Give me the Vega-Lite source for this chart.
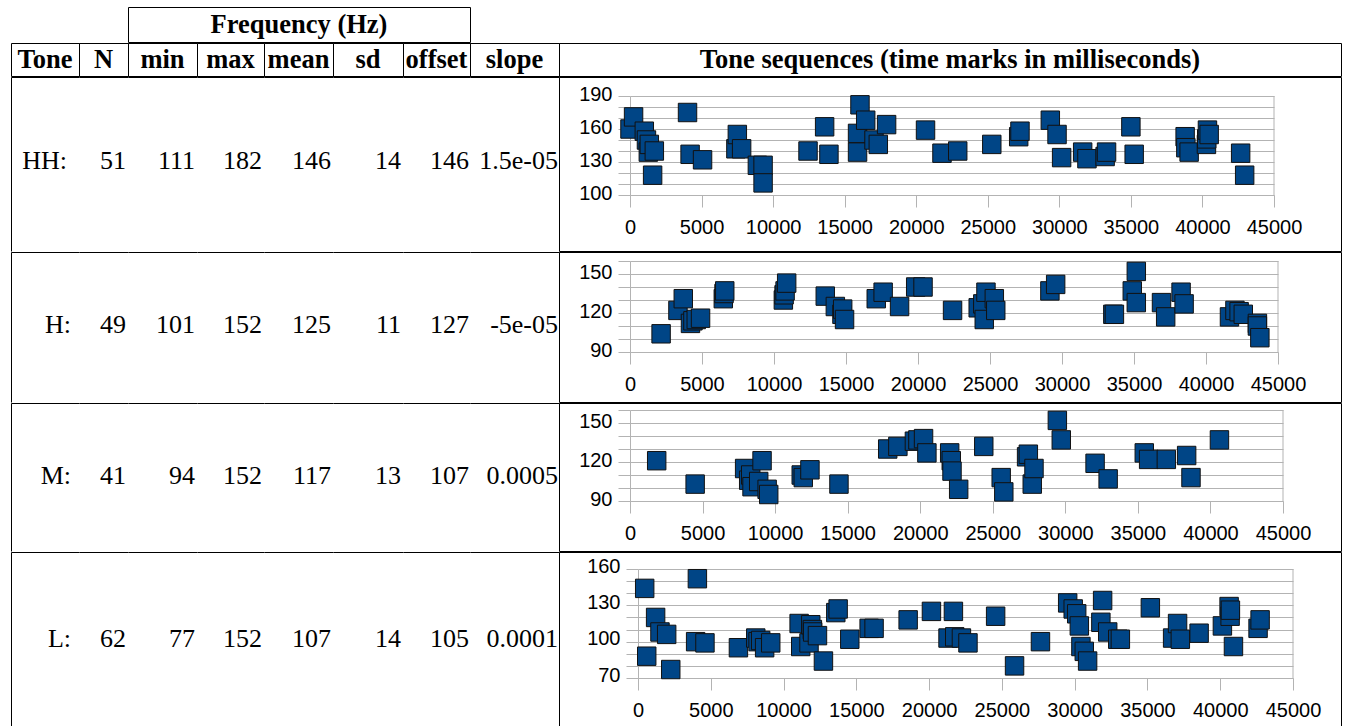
{
"$schema":"https://vega.github.io/schema/vega-lite/v6.json",
"padding":{"left":10,"top":6,"right":0,"bottom":0},
"background":"white",
"datasets":{
"stats":[
{"tone":"HH","label":"HH:","N":51,"min":111,"max":182,"mean":146,"sd":14,"offset":146,"slope":"1.5e-05"},
{"tone":"H","label":"H:","N":49,"min":101,"max":152,"mean":125,"sd":11,"offset":127,"slope":"-5e-05"},
{"tone":"M","label":"M:","N":41,"min":94,"max":152,"mean":117,"sd":13,"offset":107,"slope":"0.0005"},
{"tone":"L","label":"L:","N":62,"min":77,"max":152,"mean":107,"sd":14,"offset":105,"slope":"0.0001"}
],
"pts":[
{"tone":"HH","t":0,"f":160},{"tone":"HH","t":250,"f":171},{"tone":"HH","t":1000,"f":158},{"tone":"HH","t":1150,"f":150},{"tone":"HH","t":1280,"f":139},{"tone":"HH","t":1350,"f":146},{"tone":"HH","t":1580,"f":118},{"tone":"HH","t":1700,"f":140},{"tone":"HH","t":4020,"f":175},{"tone":"HH","t":4200,"f":137},{"tone":"HH","t":5070,"f":132},{"tone":"HH","t":7400,"f":142},{"tone":"HH","t":7500,"f":155},{"tone":"HH","t":7800,"f":142},{"tone":"HH","t":8900,"f":127},{"tone":"HH","t":9300,"f":127},{"tone":"HH","t":9300,"f":111},{"tone":"HH","t":12440,"f":140},{"tone":"HH","t":13600,"f":162},{"tone":"HH","t":13900,"f":137},{"tone":"HH","t":15900,"f":156},{"tone":"HH","t":15900,"f":139},{"tone":"HH","t":16070,"f":182},{"tone":"HH","t":16470,"f":168},{"tone":"HH","t":17050,"f":150},{"tone":"HH","t":17350,"f":146},{"tone":"HH","t":17930,"f":164},{"tone":"HH","t":20650,"f":159},{"tone":"HH","t":21800,"f":138},{"tone":"HH","t":22900,"f":140},{"tone":"HH","t":25280,"f":146},{"tone":"HH","t":27160,"f":153},{"tone":"HH","t":27250,"f":158},{"tone":"HH","t":29370,"f":168},{"tone":"HH","t":29840,"f":155},{"tone":"HH","t":30160,"f":134},{"tone":"HH","t":31630,"f":139},{"tone":"HH","t":31930,"f":133},{"tone":"HH","t":33200,"f":135},{"tone":"HH","t":33300,"f":139},{"tone":"HH","t":35000,"f":162},{"tone":"HH","t":35230,"f":137},{"tone":"HH","t":38790,"f":153},{"tone":"HH","t":38840,"f":143},{"tone":"HH","t":39070,"f":139},{"tone":"HH","t":40280,"f":146},{"tone":"HH","t":40300,"f":151},{"tone":"HH","t":40350,"f":159},{"tone":"HH","t":40470,"f":155},{"tone":"HH","t":42670,"f":138},{"tone":"HH","t":42950,"f":118},
{"tone":"H","t":2160,"f":104},{"tone":"H","t":3330,"f":122},{"tone":"H","t":3700,"f":131},{"tone":"H","t":4200,"f":112},{"tone":"H","t":4370,"f":114},{"tone":"H","t":4600,"f":115},{"tone":"H","t":4900,"f":116},{"tone":"H","t":6480,"f":131},{"tone":"H","t":6530,"f":135},{"tone":"H","t":6580,"f":137},{"tone":"H","t":10650,"f":130},{"tone":"H","t":10700,"f":134},{"tone":"H","t":10770,"f":137},{"tone":"H","t":10880,"f":143},{"tone":"H","t":13560,"f":133},{"tone":"H","t":14260,"f":125},{"tone":"H","t":14720,"f":119},{"tone":"H","t":14770,"f":123},{"tone":"H","t":14900,"f":115},{"tone":"H","t":17100,"f":131},{"tone":"H","t":17580,"f":136},{"tone":"H","t":18720,"f":125},{"tone":"H","t":19840,"f":140},{"tone":"H","t":20350,"f":140},{"tone":"H","t":22400,"f":122},{"tone":"H","t":24180,"f":124},{"tone":"H","t":24500,"f":127},{"tone":"H","t":24600,"f":115},{"tone":"H","t":24720,"f":136},{"tone":"H","t":25300,"f":131},{"tone":"H","t":25400,"f":122},{"tone":"H","t":29160,"f":137},{"tone":"H","t":29560,"f":142},{"tone":"H","t":33530,"f":119},{"tone":"H","t":33640,"f":119},{"tone":"H","t":34880,"f":137},{"tone":"H","t":35160,"f":152},{"tone":"H","t":35160,"f":128},{"tone":"H","t":36910,"f":128},{"tone":"H","t":37200,"f":117},{"tone":"H","t":38270,"f":136},{"tone":"H","t":38480,"f":127},{"tone":"H","t":41630,"f":117},{"tone":"H","t":42010,"f":122},{"tone":"H","t":42300,"f":121},{"tone":"H","t":42590,"f":119},{"tone":"H","t":43570,"f":112},{"tone":"H","t":43570,"f":110},{"tone":"H","t":43740,"f":101},
{"tone":"M","t":1840,"f":121},{"tone":"M","t":4490,"f":103},{"tone":"M","t":7900,"f":115},{"tone":"M","t":8180,"f":106},{"tone":"M","t":8320,"f":110},{"tone":"M","t":8410,"f":101},{"tone":"M","t":8870,"f":105},{"tone":"M","t":9100,"f":121},{"tone":"M","t":9450,"f":99},{"tone":"M","t":9560,"f":95},{"tone":"M","t":11800,"f":110},{"tone":"M","t":11940,"f":108},{"tone":"M","t":12400,"f":114},{"tone":"M","t":14400,"f":103},{"tone":"M","t":17760,"f":130},{"tone":"M","t":18460,"f":132},{"tone":"M","t":19600,"f":136},{"tone":"M","t":19840,"f":137},{"tone":"M","t":20230,"f":138},{"tone":"M","t":20460,"f":127},{"tone":"M","t":22030,"f":127},{"tone":"M","t":22140,"f":121},{"tone":"M","t":22190,"f":113},{"tone":"M","t":22650,"f":99},{"tone":"M","t":24380,"f":132},{"tone":"M","t":25580,"f":108},{"tone":"M","t":25760,"f":97},{"tone":"M","t":27330,"f":124},{"tone":"M","t":27450,"f":126},{"tone":"M","t":27720,"f":103},{"tone":"M","t":27840,"f":115},{"tone":"M","t":29450,"f":152},{"tone":"M","t":29720,"f":137},{"tone":"M","t":32050,"f":119},{"tone":"M","t":32950,"f":107},{"tone":"M","t":35440,"f":127},{"tone":"M","t":35740,"f":122},{"tone":"M","t":36960,"f":122},{"tone":"M","t":38360,"f":125},{"tone":"M","t":38660,"f":108},{"tone":"M","t":40620,"f":137},
{"tone":"L","t":460,"f":144},{"tone":"L","t":600,"f":88},{"tone":"L","t":1210,"f":120},{"tone":"L","t":1510,"f":108},{"tone":"L","t":1970,"f":106},{"tone":"L","t":2250,"f":77},{"tone":"L","t":3960,"f":100},{"tone":"L","t":4080,"f":152},{"tone":"L","t":4600,"f":99},{"tone":"L","t":6900,"f":95},{"tone":"L","t":8090,"f":103},{"tone":"L","t":8250,"f":100},{"tone":"L","t":8430,"f":101},{"tone":"L","t":8700,"f":95},{"tone":"L","t":9120,"f":99},{"tone":"L","t":11070,"f":115},{"tone":"L","t":11180,"f":96},{"tone":"L","t":11750,"f":99},{"tone":"L","t":11870,"f":114},{"tone":"L","t":11980,"f":110},{"tone":"L","t":12000,"f":108},{"tone":"L","t":12330,"f":105},{"tone":"L","t":12740,"f":84},{"tone":"L","t":13590,"f":124},{"tone":"L","t":13750,"f":127},{"tone":"L","t":14550,"f":102},{"tone":"L","t":15880,"f":111},{"tone":"L","t":16220,"f":111},{"tone":"L","t":18560,"f":118},{"tone":"L","t":20160,"f":125},{"tone":"L","t":21300,"f":103},{"tone":"L","t":21670,"f":125},{"tone":"L","t":21760,"f":104},{"tone":"L","t":22220,"f":103},{"tone":"L","t":22670,"f":99},{"tone":"L","t":24570,"f":121},{"tone":"L","t":25870,"f":80},{"tone":"L","t":27650,"f":100},{"tone":"L","t":29520,"f":132},{"tone":"L","t":29900,"f":127},{"tone":"L","t":30140,"f":123},{"tone":"L","t":30320,"f":113},{"tone":"L","t":30430,"f":96},{"tone":"L","t":30660,"f":92},{"tone":"L","t":30890,"f":84},{"tone":"L","t":31800,"f":116},{"tone":"L","t":31920,"f":134},{"tone":"L","t":32270,"f":108},{"tone":"L","t":32960,"f":102},{"tone":"L","t":33140,"f":102},{"tone":"L","t":35200,"f":128},{"tone":"L","t":36730,"f":103},{"tone":"L","t":37070,"f":115},{"tone":"L","t":37260,"f":102},{"tone":"L","t":38550,"f":107},{"tone":"L","t":40150,"f":113},{"tone":"L","t":40610,"f":129},{"tone":"L","t":40680,"f":121},{"tone":"L","t":40700,"f":126},{"tone":"L","t":40910,"f":96},{"tone":"L","t":42600,"f":111},{"tone":"L","t":42740,"f":118}
]
},
"vconcat":[
{"hconcat":[
 {"width":117,"height":35,"data":{"values":[{"h":""}]},"mark":{"type":"text"},"encoding":{"text":{"field":"h","type":"nominal"}}},
 {"width":342,"height":35,"view":{"stroke":"black"},"data":{"values":[{"h":"Frequency (Hz)"}]},"mark":{"type":"text","fontWeight":"bold","fontSize":26.5},"encoding":{"text":{"field":"h","type":"nominal"}}}
],"spacing":0,"bounds":"flush"},
{"hconcat":[
 {"width":68,"height":33,"view":{"stroke":"black"},"data":{"values":[{"h":"Tone"}]},"mark":{"type":"text","fontWeight":"bold","fontSize":26.5},"encoding":{"text":{"field":"h","type":"nominal"}}},
 {"width":49,"height":33,"view":{"stroke":"black"},"data":{"values":[{"h":"N"}]},"mark":{"type":"text","fontWeight":"bold","fontSize":26.5},"encoding":{"text":{"field":"h","type":"nominal"}}},
 {"width":69,"height":33,"view":{"stroke":"black"},"data":{"values":[{"h":"min"}]},"mark":{"type":"text","fontWeight":"bold","fontSize":26.5},"encoding":{"text":{"field":"h","type":"nominal"}}},
 {"width":67,"height":33,"view":{"stroke":"black"},"data":{"values":[{"h":"max"}]},"mark":{"type":"text","fontWeight":"bold","fontSize":26.5},"encoding":{"text":{"field":"h","type":"nominal"}}},
 {"width":69,"height":33,"view":{"stroke":"black"},"data":{"values":[{"h":"mean"}]},"mark":{"type":"text","fontWeight":"bold","fontSize":26.5},"encoding":{"text":{"field":"h","type":"nominal"}}},
 {"width":70,"height":33,"view":{"stroke":"black"},"data":{"values":[{"h":"sd"}]},"mark":{"type":"text","fontWeight":"bold","fontSize":26.5},"encoding":{"text":{"field":"h","type":"nominal"}}},
 {"width":67,"height":33,"view":{"stroke":"black"},"data":{"values":[{"h":"offset"}]},"mark":{"type":"text","fontWeight":"bold","fontSize":26.5},"encoding":{"text":{"field":"h","type":"nominal"}}},
 {"width":89,"height":33,"view":{"stroke":"black"},"data":{"values":[{"h":"slope"}]},"mark":{"type":"text","fontWeight":"bold","fontSize":26.5},"encoding":{"text":{"field":"h","type":"nominal"}}},
 {"width":782,"height":33,"view":{"stroke":"black"},"data":{"values":[{"h":"Tone sequences (time marks in milliseconds)"}]},"mark":{"type":"text","fontWeight":"bold","fontSize":26.5},"encoding":{"text":{"field":"h","type":"nominal"}}}
],"spacing":0,"bounds":"flush"},
{"hconcat":[
 {"width":68,"height":174,"data":{"name":"stats"},"transform":[{"filter":"datum.tone=='HH'"}],"mark":{"type":"text","align":"right","dx":-12,"dy":-3},"encoding":{"x":{"datum":"Tone","type":"nominal","bandPosition":1,"scale":{"type":"band","padding":0},"axis":{"orient":"top","title":null}},"y":{"datum":"row","type":"nominal","scale":{"type":"band","padding":0},"axis":{"orient":"left","title":null}},"text":{"field":"label","type":"nominal"}}},
 {"width":49,"height":174,"data":{"name":"stats"},"transform":[{"filter":"datum.tone=='HH'"}],"mark":{"type":"text","align":"right","dx":-2,"dy":-3},"encoding":{"x":{"datum":"N","type":"nominal","bandPosition":1,"scale":{"type":"band","padding":0},"axis":{"orient":"top","title":null}},"text":{"field":"N","type":"nominal"}}},
 {"width":69,"height":174,"data":{"name":"stats"},"transform":[{"filter":"datum.tone=='HH'"}],"mark":{"type":"text","align":"right","dx":-2,"dy":-3},"encoding":{"x":{"datum":"min","type":"nominal","bandPosition":1,"scale":{"type":"band","padding":0},"axis":{"orient":"top","title":null}},"text":{"field":"min","type":"nominal"}}},
 {"width":67,"height":174,"data":{"name":"stats"},"transform":[{"filter":"datum.tone=='HH'"}],"mark":{"type":"text","align":"right","dx":-2,"dy":-3},"encoding":{"x":{"datum":"max","type":"nominal","bandPosition":1,"scale":{"type":"band","padding":0},"axis":{"orient":"top","title":null}},"text":{"field":"max","type":"nominal"}}},
 {"width":69,"height":174,"data":{"name":"stats"},"transform":[{"filter":"datum.tone=='HH'"}],"mark":{"type":"text","align":"right","dx":-2,"dy":-3},"encoding":{"x":{"datum":"mean","type":"nominal","bandPosition":1,"scale":{"type":"band","padding":0},"axis":{"orient":"top","title":null}},"text":{"field":"mean","type":"nominal"}}},
 {"width":70,"height":174,"data":{"name":"stats"},"transform":[{"filter":"datum.tone=='HH'"}],"mark":{"type":"text","align":"right","dx":-2,"dy":-3},"encoding":{"x":{"datum":"sd","type":"nominal","bandPosition":1,"scale":{"type":"band","padding":0},"axis":{"orient":"top","title":null}},"text":{"field":"sd","type":"nominal"}}},
 {"width":67,"height":174,"data":{"name":"stats"},"transform":[{"filter":"datum.tone=='HH'"}],"mark":{"type":"text","align":"right","dx":-1,"dy":-3},"encoding":{"x":{"datum":"offset","type":"nominal","bandPosition":1,"scale":{"type":"band","padding":0},"axis":{"orient":"top","title":null}},"text":{"field":"offset","type":"nominal"}}},
 {"width":89,"height":174,"data":{"name":"stats"},"transform":[{"filter":"datum.tone=='HH'"}],"mark":{"type":"text","align":"right","dx":-1,"dy":-3},"encoding":{"x":{"datum":"slope","type":"nominal","bandPosition":1,"scale":{"type":"band","padding":0},"axis":{"orient":"top","title":null}},"text":{"field":"slope","type":"nominal"}}},
 {"width":782,"height":174,"view":{"stroke":"black"},"resolve":{"axis":{"y":"independent"}},"layer":[
  {"data":{"name":"pts"},"transform":[{"filter":"datum.tone=='HH'"}],"mark":{"type":"point","shape":"square","filled":true,"fill":"#004586","stroke":"#111111","strokeWidth":1,"size":340,"opacity":1},
   "encoding":{
    "x":{"field":"t","type":"quantitative","scale":{"domain":[0,45000],"range":[71,715],"nice":false,"zero":false},"axis":{"orient":"bottom","offset":-56,"values":[0,5000,10000,15000,20000,25000,30000,35000,40000,45000],"format":"d","grid":false,"labelPadding":10,"labelOverlap":false,"title":null}},
    "y":{"field":"f","type":"quantitative","scale":{"domain":[100,190],"range":[118,19],"nice":false,"zero":false},"axis":{"orient":"left","offset":-71,"values":[100,110,120,130,140,150,160,170,180,190],"grid":true,"labels":false,"title":null}}
   }},
  {"data":{"values":[{}]},"mark":{"type":"rule","color":"#b3b3b3","strokeWidth":1},"encoding":{"x":{"datum":45000,"type":"quantitative"},"y":{"datum":100,"type":"quantitative","axis":{"orient":"left","offset":-71,"values":[100,130,160,190],"format":"d","grid":false,"domain":false,"tickOpacity":0,"labelPadding":6,"labelOffset":-2,"labelOverlap":false,"title":null}},"y2":{"datum":190}}}
 ]}
],"spacing":0,"bounds":"flush"},
{"hconcat":[
 {"width":68,"height":150,"data":{"name":"stats"},"transform":[{"filter":"datum.tone=='H'"}],"mark":{"type":"text","align":"right","dx":-8,"dy":-2},"encoding":{"x":{"datum":"Tone","type":"nominal","bandPosition":1,"scale":{"type":"band","padding":0},"axis":{"orient":"top","title":null}},"y":{"datum":"row","type":"nominal","scale":{"type":"band","padding":0},"axis":{"orient":"left","title":null}},"text":{"field":"label","type":"nominal"}}},
 {"width":49,"height":150,"data":{"name":"stats"},"transform":[{"filter":"datum.tone=='H'"}],"mark":{"type":"text","align":"right","dx":-2,"dy":-2},"encoding":{"x":{"datum":"N","type":"nominal","bandPosition":1,"scale":{"type":"band","padding":0},"axis":{"orient":"top","title":null}},"text":{"field":"N","type":"nominal"}}},
 {"width":69,"height":150,"data":{"name":"stats"},"transform":[{"filter":"datum.tone=='H'"}],"mark":{"type":"text","align":"right","dx":-2,"dy":-2},"encoding":{"x":{"datum":"min","type":"nominal","bandPosition":1,"scale":{"type":"band","padding":0},"axis":{"orient":"top","title":null}},"text":{"field":"min","type":"nominal"}}},
 {"width":67,"height":150,"data":{"name":"stats"},"transform":[{"filter":"datum.tone=='H'"}],"mark":{"type":"text","align":"right","dx":-2,"dy":-2},"encoding":{"x":{"datum":"max","type":"nominal","bandPosition":1,"scale":{"type":"band","padding":0},"axis":{"orient":"top","title":null}},"text":{"field":"max","type":"nominal"}}},
 {"width":69,"height":150,"data":{"name":"stats"},"transform":[{"filter":"datum.tone=='H'"}],"mark":{"type":"text","align":"right","dx":-2,"dy":-2},"encoding":{"x":{"datum":"mean","type":"nominal","bandPosition":1,"scale":{"type":"band","padding":0},"axis":{"orient":"top","title":null}},"text":{"field":"mean","type":"nominal"}}},
 {"width":70,"height":150,"data":{"name":"stats"},"transform":[{"filter":"datum.tone=='H'"}],"mark":{"type":"text","align":"right","dx":-2,"dy":-2},"encoding":{"x":{"datum":"sd","type":"nominal","bandPosition":1,"scale":{"type":"band","padding":0},"axis":{"orient":"top","title":null}},"text":{"field":"sd","type":"nominal"}}},
 {"width":67,"height":150,"data":{"name":"stats"},"transform":[{"filter":"datum.tone=='H'"}],"mark":{"type":"text","align":"right","dx":-1,"dy":-2},"encoding":{"x":{"datum":"offset","type":"nominal","bandPosition":1,"scale":{"type":"band","padding":0},"axis":{"orient":"top","title":null}},"text":{"field":"offset","type":"nominal"}}},
 {"width":89,"height":150,"data":{"name":"stats"},"transform":[{"filter":"datum.tone=='H'"}],"mark":{"type":"text","align":"right","dx":-1,"dy":-2},"encoding":{"x":{"datum":"slope","type":"nominal","bandPosition":1,"scale":{"type":"band","padding":0},"axis":{"orient":"top","title":null}},"text":{"field":"slope","type":"nominal"}}},
 {"width":782,"height":150,"view":{"stroke":"black"},"resolve":{"axis":{"y":"independent"}},"layer":[
  {"data":{"name":"pts"},"transform":[{"filter":"datum.tone=='H'"}],"mark":{"type":"point","shape":"square","filled":true,"fill":"#004586","stroke":"#111111","strokeWidth":1,"size":340,"opacity":1},
   "encoding":{
    "x":{"field":"t","type":"quantitative","scale":{"domain":[0,45000],"range":[71,719],"nice":false,"zero":false},"axis":{"orient":"bottom","offset":-50,"values":[0,5000,10000,15000,20000,25000,30000,35000,40000,45000],"format":"d","grid":false,"labelPadding":10,"labelOverlap":false,"title":null}},
    "y":{"field":"f","type":"quantitative","scale":{"domain":[90,160],"range":[100,9],"nice":false,"zero":false},"axis":{"orient":"left","offset":-71,"values":[90,100,110,120,130,140,150,160],"grid":true,"labels":false,"title":null}}
   }},
  {"data":{"values":[{}]},"mark":{"type":"rule","color":"#b3b3b3","strokeWidth":1},"encoding":{"x":{"datum":45000,"type":"quantitative"},"y":{"datum":90,"type":"quantitative","axis":{"orient":"left","offset":-71,"values":[90,120,150],"format":"d","grid":false,"domain":false,"tickOpacity":0,"labelPadding":6,"labelOffset":-2,"labelOverlap":false,"title":null}},"y2":{"datum":160}}}
 ]}
],"spacing":0,"bounds":"flush"},
{"hconcat":[
 {"width":68,"height":148,"data":{"name":"stats"},"transform":[{"filter":"datum.tone=='M'"}],"mark":{"type":"text","align":"right","dx":-8,"dy":-1},"encoding":{"x":{"datum":"Tone","type":"nominal","bandPosition":1,"scale":{"type":"band","padding":0},"axis":{"orient":"top","title":null}},"y":{"datum":"row","type":"nominal","scale":{"type":"band","padding":0},"axis":{"orient":"left","title":null}},"text":{"field":"label","type":"nominal"}}},
 {"width":49,"height":148,"data":{"name":"stats"},"transform":[{"filter":"datum.tone=='M'"}],"mark":{"type":"text","align":"right","dx":-2,"dy":-1},"encoding":{"x":{"datum":"N","type":"nominal","bandPosition":1,"scale":{"type":"band","padding":0},"axis":{"orient":"top","title":null}},"text":{"field":"N","type":"nominal"}}},
 {"width":69,"height":148,"data":{"name":"stats"},"transform":[{"filter":"datum.tone=='M'"}],"mark":{"type":"text","align":"right","dx":-2,"dy":-1},"encoding":{"x":{"datum":"min","type":"nominal","bandPosition":1,"scale":{"type":"band","padding":0},"axis":{"orient":"top","title":null}},"text":{"field":"min","type":"nominal"}}},
 {"width":67,"height":148,"data":{"name":"stats"},"transform":[{"filter":"datum.tone=='M'"}],"mark":{"type":"text","align":"right","dx":-2,"dy":-1},"encoding":{"x":{"datum":"max","type":"nominal","bandPosition":1,"scale":{"type":"band","padding":0},"axis":{"orient":"top","title":null}},"text":{"field":"max","type":"nominal"}}},
 {"width":69,"height":148,"data":{"name":"stats"},"transform":[{"filter":"datum.tone=='M'"}],"mark":{"type":"text","align":"right","dx":-2,"dy":-1},"encoding":{"x":{"datum":"mean","type":"nominal","bandPosition":1,"scale":{"type":"band","padding":0},"axis":{"orient":"top","title":null}},"text":{"field":"mean","type":"nominal"}}},
 {"width":70,"height":148,"data":{"name":"stats"},"transform":[{"filter":"datum.tone=='M'"}],"mark":{"type":"text","align":"right","dx":-2,"dy":-1},"encoding":{"x":{"datum":"sd","type":"nominal","bandPosition":1,"scale":{"type":"band","padding":0},"axis":{"orient":"top","title":null}},"text":{"field":"sd","type":"nominal"}}},
 {"width":67,"height":148,"data":{"name":"stats"},"transform":[{"filter":"datum.tone=='M'"}],"mark":{"type":"text","align":"right","dx":-1,"dy":-1},"encoding":{"x":{"datum":"offset","type":"nominal","bandPosition":1,"scale":{"type":"band","padding":0},"axis":{"orient":"top","title":null}},"text":{"field":"offset","type":"nominal"}}},
 {"width":89,"height":148,"data":{"name":"stats"},"transform":[{"filter":"datum.tone=='M'"}],"mark":{"type":"text","align":"right","dx":-1,"dy":-1},"encoding":{"x":{"datum":"slope","type":"nominal","bandPosition":1,"scale":{"type":"band","padding":0},"axis":{"orient":"top","title":null}},"text":{"field":"slope","type":"nominal"}}},
 {"width":782,"height":148,"view":{"stroke":"black"},"resolve":{"axis":{"y":"independent"}},"layer":[
  {"data":{"name":"pts"},"transform":[{"filter":"datum.tone=='M'"}],"mark":{"type":"point","shape":"square","filled":true,"fill":"#004586","stroke":"#111111","strokeWidth":1,"size":340,"opacity":1},
   "encoding":{
    "x":{"field":"t","type":"quantitative","scale":{"domain":[0,45000],"range":[71,724],"nice":false,"zero":false},"axis":{"orient":"bottom","offset":-50,"values":[0,5000,10000,15000,20000,25000,30000,35000,40000,45000],"format":"d","grid":false,"labelPadding":10,"labelOverlap":false,"title":null}},
    "y":{"field":"f","type":"quantitative","scale":{"domain":[90,160],"range":[98,7],"nice":false,"zero":false},"axis":{"orient":"left","offset":-71,"values":[90,100,110,120,130,140,150,160],"grid":true,"labels":false,"title":null}}
   }},
  {"data":{"values":[{}]},"mark":{"type":"rule","color":"#b3b3b3","strokeWidth":1},"encoding":{"x":{"datum":45000,"type":"quantitative"},"y":{"datum":90,"type":"quantitative","axis":{"orient":"left","offset":-71,"values":[90,120,150],"format":"d","grid":false,"domain":false,"tickOpacity":0,"labelPadding":6,"labelOffset":-2,"labelOverlap":false,"title":null}},"y2":{"datum":160}}}
 ]}
],"spacing":0,"bounds":"flush"},
{"hconcat":[
 {"width":68,"height":185,"data":{"name":"stats"},"transform":[{"filter":"datum.tone=='L'"}],"mark":{"type":"text","align":"right","dx":-8,"dy":-6},"encoding":{"x":{"datum":"Tone","type":"nominal","bandPosition":1,"scale":{"type":"band","padding":0},"axis":{"orient":"top","title":null}},"y":{"datum":"row","type":"nominal","scale":{"type":"band","padding":0},"axis":{"orient":"left","title":null}},"text":{"field":"label","type":"nominal"}}},
 {"width":49,"height":185,"data":{"name":"stats"},"transform":[{"filter":"datum.tone=='L'"}],"mark":{"type":"text","align":"right","dx":-2,"dy":-6},"encoding":{"x":{"datum":"N","type":"nominal","bandPosition":1,"scale":{"type":"band","padding":0},"axis":{"orient":"top","title":null}},"text":{"field":"N","type":"nominal"}}},
 {"width":69,"height":185,"data":{"name":"stats"},"transform":[{"filter":"datum.tone=='L'"}],"mark":{"type":"text","align":"right","dx":-2,"dy":-6},"encoding":{"x":{"datum":"min","type":"nominal","bandPosition":1,"scale":{"type":"band","padding":0},"axis":{"orient":"top","title":null}},"text":{"field":"min","type":"nominal"}}},
 {"width":67,"height":185,"data":{"name":"stats"},"transform":[{"filter":"datum.tone=='L'"}],"mark":{"type":"text","align":"right","dx":-2,"dy":-6},"encoding":{"x":{"datum":"max","type":"nominal","bandPosition":1,"scale":{"type":"band","padding":0},"axis":{"orient":"top","title":null}},"text":{"field":"max","type":"nominal"}}},
 {"width":69,"height":185,"data":{"name":"stats"},"transform":[{"filter":"datum.tone=='L'"}],"mark":{"type":"text","align":"right","dx":-2,"dy":-6},"encoding":{"x":{"datum":"mean","type":"nominal","bandPosition":1,"scale":{"type":"band","padding":0},"axis":{"orient":"top","title":null}},"text":{"field":"mean","type":"nominal"}}},
 {"width":70,"height":185,"data":{"name":"stats"},"transform":[{"filter":"datum.tone=='L'"}],"mark":{"type":"text","align":"right","dx":-2,"dy":-6},"encoding":{"x":{"datum":"sd","type":"nominal","bandPosition":1,"scale":{"type":"band","padding":0},"axis":{"orient":"top","title":null}},"text":{"field":"sd","type":"nominal"}}},
 {"width":67,"height":185,"data":{"name":"stats"},"transform":[{"filter":"datum.tone=='L'"}],"mark":{"type":"text","align":"right","dx":-1,"dy":-6},"encoding":{"x":{"datum":"offset","type":"nominal","bandPosition":1,"scale":{"type":"band","padding":0},"axis":{"orient":"top","title":null}},"text":{"field":"offset","type":"nominal"}}},
 {"width":89,"height":185,"data":{"name":"stats"},"transform":[{"filter":"datum.tone=='L'"}],"mark":{"type":"text","align":"right","dx":-1,"dy":-6},"encoding":{"x":{"datum":"slope","type":"nominal","bandPosition":1,"scale":{"type":"band","padding":0},"axis":{"orient":"top","title":null}},"text":{"field":"slope","type":"nominal"}}},
 {"width":782,"height":185,"view":{"stroke":"black"},"resolve":{"axis":{"y":"independent"}},"layer":[
  {"data":{"name":"pts"},"transform":[{"filter":"datum.tone=='L'"}],"mark":{"type":"point","shape":"square","filled":true,"fill":"#004586","stroke":"#111111","strokeWidth":1,"size":340,"opacity":1},
   "encoding":{
    "x":{"field":"t","type":"quantitative","scale":{"domain":[0,45000],"range":[79,734],"nice":false,"zero":false},"axis":{"orient":"bottom","offset":-59,"values":[0,5000,10000,15000,20000,25000,30000,35000,40000,45000],"format":"d","grid":false,"labelPadding":10,"labelOverlap":false,"title":null}},
    "y":{"field":"f","type":"quantitative","scale":{"domain":[70,160],"range":[126,17],"nice":false,"zero":false},"axis":{"orient":"left","offset":-79,"values":[70,80,90,100,110,120,130,140,150,160],"grid":true,"labels":false,"title":null}}
   }},
  {"data":{"values":[{}]},"mark":{"type":"rule","color":"#b3b3b3","strokeWidth":1},"encoding":{"x":{"datum":45000,"type":"quantitative"},"y":{"datum":70,"type":"quantitative","axis":{"orient":"left","offset":-79,"values":[70,100,130,160],"format":"d","grid":false,"domain":false,"tickOpacity":0,"labelPadding":6,"labelOffset":-3,"labelOverlap":false,"title":null}},"y2":{"datum":160}}}
 ]}
],"spacing":0,"bounds":"flush"}
],
"spacing":-2,
"config":{
 "view":{"stroke":null},
 "text":{"font":"Liberation Serif","fontSize":26,"color":"black"},
 "axisBand":{"labels":false,"ticks":false,"domainColor":"black","domainWidth":1,"grid":false},
 "axisQuantitative":{"gridColor":"#b3b3b3","gridWidth":1,"tickColor":"#b3b3b3","tickSize":12,"domainColor":"#b3b3b3","labelFont":"Liberation Sans","labelFontSize":20,"labelColor":"black","labelFlush":false}
}
}
